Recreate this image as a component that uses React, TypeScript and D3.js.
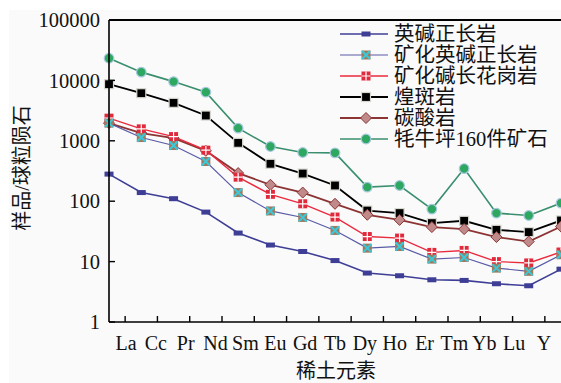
import React from 'react';
import * as d3 from 'd3';

const elements = ['La', 'Ce', 'Pr', 'Nd', 'Sm', 'Eu', 'Gd', 'Tb', 'Dy', 'Ho', 'Er', 'Tm', 'Yb', 'Lu', 'Y'];
const tickLabels = ['La', 'Cc', 'Pr', 'Nd', 'Sm', 'Eu', 'Gd', 'Tb', 'Dy', 'Ho', 'Er', 'Tm', 'Yb', 'Lu', 'Y'];
const yTicks = [1, 10, 100, 1000, 10000, 100000];

const quartzSyenite = [281, 139, 110, 66, 29.7, 18.8, 14.7, 10.4, 6.46, 5.83, 5.0, 4.88, 4.3, 3.98, 7.5];
const mineralizedSyenite = [1960, 1132, 835, 454, 139, 69, 53.8, 32.8, 16.7, 17.8, 11, 11.7, 7.8, 6.9, 13];
const mineralizedGranite = [2370, 1577, 1175, 700, 250, 130, 90.6, 54.6, 26, 24.5, 14.2, 15.3, 10, 9.5, 14.4];
const lamprophyre = [8650, 6140, 4250, 2620, 925, 416, 287, 182, 70, 63.6, 43.4, 47.4, 33.6, 30.8, 48];
const carbonatite = [1960, 1340, 1107, 682, 292, 187, 139, 90.6, 59.6, 49, 37.3, 34.5, 25.5, 21.5, 38];
const maoniuping = [23300, 13700, 9550, 6380, 1620, 804, 640, 632, 171, 182, 74, 347, 63.5, 58, 93];

const seriesNames = ['英碱正长岩', '矿化英碱正长岩', '矿化碱长花岗岩', '煌斑岩', '碳酸岩', '牦牛坪160件矿石'];
const seriesValues = [quartzSyenite, mineralizedSyenite, mineralizedGranite, lamprophyre, carbonatite, maoniuping];
const lineColors = ['#3e3e96', '#5a5aa6', '#ea2a3e', '#000000', '#8c3434', '#3a8f6e'];
const lineWidths = [1.6, 1.2, 1.4, 1.8, 1.8, 1.6];

const serif = '"Liberation Serif", "DejaVu Serif", "Noto Sans CJK SC", serif';

const W = 561;
const H = 383;
const left = 109;
const right = 561;
const top = 20;
const bottom = 322;

const Marker: React.FC<{ kind: number; x: number; y: number }> = ({ kind, x, y }) => {
  switch (kind) {
    case 0:
      return <rect x={x - 4.5} y={y - 2.5} width={9} height={5} fill="#3e3e96" />;
    case 1:
      return (
        <g>
          <rect x={x - 4.5} y={y - 4.5} width={9} height={9} fill="#a07a5e" />
          <path d={`M${x - 4},${y - 4}L${x + 4},${y + 4}M${x - 4},${y + 4}L${x + 4},${y - 4}`} stroke="#3cc8d8" strokeWidth={2} />
        </g>
      );
    case 2:
      return (
        <g>
          <rect x={x - 4.5} y={y - 4.5} width={9} height={9} fill="#e02a3c" />
          <path d={`M${x},${y - 4.5}V${y + 4.5}M${x - 4.5},${y}H${x + 4.5}`} stroke="#ffffff" strokeWidth={1.2} />
        </g>
      );
    case 3:
      return <rect x={x - 4.5} y={y - 4.5} width={9} height={9} fill="#000" stroke="#d8d8d0" strokeWidth={1.2} />;
    case 4:
      return (
        <path d={`M${x},${y - 5.5}L${x + 5.5},${y}L${x},${y + 5.5}L${x - 5.5},${y}Z`} fill="#c08a8a" stroke="#8c3434" strokeWidth={1} />
      );
    default:
      return <circle cx={x} cy={y} r={4.8} fill="#2ea860" stroke="#a8c8e0" strokeWidth={1.2} />;
  }
};

const App: React.FC = () => {
  const x = d3.scalePoint<string>().domain(elements).range([left, right]);
  const y = d3.scaleLog().domain([1, 100000]).range([bottom, top]);
  const labelX = d3.scalePoint<string>().domain(tickLabels.map((_, i) => String(i))).range([126, 544]);
  const step = x.step();
  const line = d3
    .line<number>()
    .x((_, i) => x(elements[i]) as number)
    .y(d => y(d));

  const order = [5, 3, 4, 2, 1, 0];

  return (
    <svg width={W} height={H} style={{ position: 'absolute', left: 0, top: 0 }}>
      <rect x={0} y={0} width={W} height={H} fill="#ffffff" />
      <rect x={9} y={10} width={W - 9} height={H - 10} fill="#fafafa" />

      {/* series */}
      {order.map(k => (
        <path key={'l' + k} d={line(seriesValues[k]) || ''} fill="none" stroke={lineColors[k]} strokeWidth={lineWidths[k]} />
      ))}
      {order.map(k => (
        <g key={'m' + k}>
          {seriesValues[k].map((v, i) => (
            <Marker key={i} kind={k} x={x(elements[i]) as number} y={y(v)} />
          ))}
        </g>
      ))}

      {/* axes */}
      <line x1={left} x2={right} y1={top} y2={top} stroke="#000" strokeWidth={2} />
      <line x1={left} x2={left} y1={top} y2={bottom} stroke="#000" strokeWidth={1.6} />
      <line x1={left} x2={right} y1={bottom} y2={bottom} stroke="#000" strokeWidth={1.6} />
      {yTicks.map(t => (
        <g key={t}>
          <line x1={left} x2={left + 6} y1={y(t)} y2={y(t)} stroke="#000" strokeWidth={1.4} />
          <text x={100} y={y(t)} dy="0.35em" textAnchor="end" fontFamily={serif} fontSize={20.5} fill="#111">
            {t}
          </text>
        </g>
      ))}
      {elements.slice(0, -1).map(e => (
        <line key={e} x1={(x(e) as number) + step / 2} x2={(x(e) as number) + step / 2} y1={bottom} y2={bottom - 6} stroke="#000" strokeWidth={1.4} />
      ))}
      {tickLabels.map((t, i) => (
        <text key={i} x={labelX(String(i)) as number} y={350} textAnchor="middle" fontFamily={serif} fontSize={20} fill="#111">
          {t}
        </text>
      ))}

      <text x={336} y={378} textAnchor="middle" fontFamily={serif} fontSize={20} fill="#111">
        稀土元素
      </text>
      <text transform="translate(29,168) rotate(-90)" textAnchor="middle" fontFamily={serif} fontSize={20} fill="#111">
        样品/球粒陨石
      </text>

      {/* legend */}
      {seriesNames.map((n, k) => {
        const ly = 34 + k * 21;
        return (
          <g key={n}>
            <line x1={340} x2={388} y1={ly} y2={ly} stroke={lineColors[k]} strokeWidth={lineWidths[k]} />
            <Marker kind={k} x={366} y={ly} />
            <text x={394} y={ly} dy="0.36em" fontFamily={serif} fontSize={20.5} fill="#111">
              {n}
            </text>
          </g>
        );
      })}
    </svg>
  );
};

export default App;
